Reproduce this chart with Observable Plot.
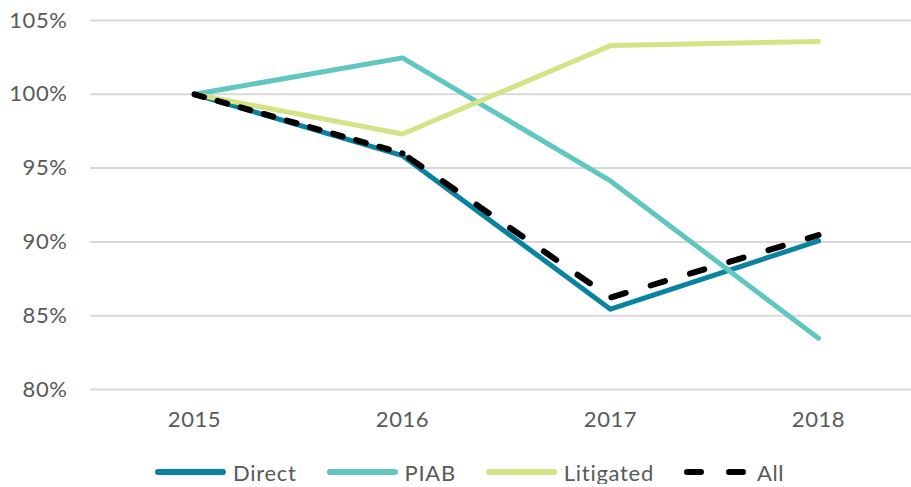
<!DOCTYPE html>
<html><head><meta charset="utf-8">
<script src="https://cdn.jsdelivr.net/npm/d3@7"></script>
<script src="https://cdn.jsdelivr.net/npm/@observablehq/plot@0.6"></script>
<style>
body{margin:0;background:#fff;font-family:Lato,sans-serif;}
#legend{display:flex;align-items:center;margin-top:20px;padding-left:155px;height:24px;font-size:22px;letter-spacing:0.7px;color:#595959}
.item{display:flex;align-items:center;margin-right:30px}
.item svg{margin-right:4px}
</style></head><body><div id="chart"></div><div id="legend"></div>
<script>
const years = ["2015","2016","2017","2018"];
const direct = [100, 95.84, 85.44, 90.07];
const piab = [100, 102.47, 94.13, 83.47];
const litigated = [100, 97.31, 103.3, 103.58];
const all = [100, 96.0, 86.23, 90.46];
const seriesNames = ["Direct","PIAB","Litigated","All"];
const seriesColors = ["#0a83a0","#5fc6c0","#d5e387","#000000"];
const yTicks = [80,85,90,95,100,105];

const seriesValues = [direct, piab, litigated, all];
const rows = seriesNames.map((name, i) => years.map((year, j) => ({series: name, year, value: seriesValues[i][j]})));

const solidMarks = rows.slice(0, 3).map((data, i) => Plot.line(data, {
  x: "year", y: "value",
  stroke: seriesColors[i], strokeWidth: 5,
  strokeLinecap: "round", strokeLinejoin: "round"
}));
const allRows = rows[3];
const allMarks = [
  Plot.line(allRows.slice(0, 2), {x: "year", y: "value", stroke: seriesColors[3], strokeWidth: 6,
    strokeDasharray: "10,14", strokeLinecap: "round"}),
  Plot.line(allRows.slice(1), {x: "year", y: "value", stroke: seriesColors[3], strokeWidth: 6,
    strokeDasharray: "15,26", strokeDashoffset: -8, strokeLinecap: "round", strokeLinejoin: "round"})
];

const chart = Plot.plot({
  width: 911, height: 440,
  marginLeft: 90, marginRight: 0, marginTop: 20, marginBottom: 51,
  style: {fontFamily: "Lato, sans-serif", fontSize: "22px", letterSpacing: "0.6px", color: "#595959", background: "#fff"},
  x: {type: "point", domain: years, range: [193, 818], padding: 0, label: null},
  y: {domain: [80, 105], label: null},
  marks: [
    Plot.ruleY(yTicks, {stroke: "#d9d9d9", strokeWidth: 2}),
    Plot.axisY({ticks: yTicks, tickFormat: d => d + "%", tickSize: 0, tickPadding: 23, label: null}),
    Plot.axisX({tickSize: 0, tickPadding: 22, label: null}),
    ...solidMarks,
    ...allMarks
  ]
});
document.getElementById("chart").appendChild(chart);

const legend = document.getElementById("legend");
seriesNames.forEach((name, i) => {
  const item = document.createElement("div");
  item.className = "item";
  const sw = i === 3
    ? `<svg width="69" height="12"><line x1="3" y1="6" x2="60" y2="6" stroke="${seriesColors[i]}" stroke-width="6" stroke-linecap="round" stroke-dasharray="14,28"/></svg>`
    : `<svg width="74" height="12"><line x1="3" y1="6" x2="68" y2="6" stroke="${seriesColors[i]}" stroke-width="6" stroke-linecap="round"/></svg>`;
  item.innerHTML = `${sw}<span>${name}</span>`;
  legend.appendChild(item);
});
</script></body></html>
